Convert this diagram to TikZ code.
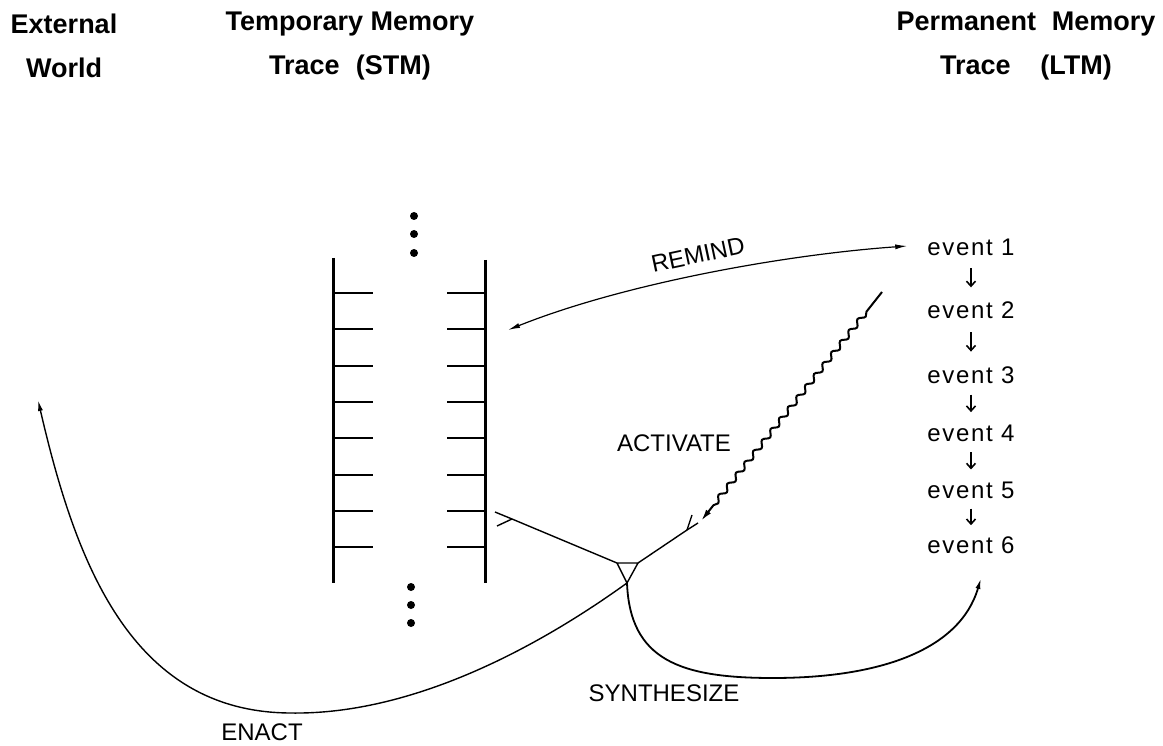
\documentclass[tikz,border=0pt]{standalone}
\usepackage{fontspec}
\setmainfont{Liberation Sans}
\newfontfamily\evfont[LetterSpace=7]{Liberation Sans}
\usetikzlibrary{arrows.meta,decorations.pathmorphing,calc}
\begin{document}
\begin{tikzpicture}[x=1pt,y=-1pt,
  title/.style={font=\bfseries\fontsize{27}{44}\selectfont, align=center, inner sep=0pt},
  lbl/.style={font=\fontsize{24}{28}\selectfont, inner sep=0pt},
  ev/.style={font=\evfont\fontsize{24}{28}\selectfont, inner sep=0pt},
  rail/.style={line width=3pt},
  rung/.style={line width=2pt},
  wire/.style={line width=1.4pt},
  evarrow/.style={line width=1.6pt, -{Straight Barb[length=5pt,width=9pt]}},
  tip/.style={-{Latex[length=11pt,width=5pt]}},
]
\useasboundingbox (0,0) rectangle (1163,746);

% column headings
\node[title] (hw) at (64,46) {External\\World};
\node[title] (hs) at (350,46) {Temporary Memory\\Trace\hspace{0.6em}(STM)};
\node[title] (hl) at (1026,46) {Permanent\hspace{0.3em} Memory\\Trace\hspace{1.1em}(LTM)};

% short-term memory trace: two rails with rungs
\draw[rail] (333,258) -- (333,583);
\draw[rail] (485,260) -- (485,583);
\foreach \i in {0,...,7}{
  \pgfmathsetmacro{\yy}{293+36.3*\i}
  \draw[rung] (333,\yy) -- (373,\yy);
  \draw[rung] (447,\yy) -- (485,\yy);
}
\foreach \yy in {216,234,253}{\fill (414,\yy) circle[radius=4pt];}
\foreach \yy in {587,605,623}{\fill (411,\yy) circle[radius=4pt];}

% long-term memory trace: chain of events
\node[ev] (e1) at (971,247) {event 1};
\node[ev] (e2) at (971,310) {event 2};
\node[ev] (e3) at (971,375) {event 3};
\node[ev] (e4) at (971,433) {event 4};
\node[ev] (e5) at (971,490) {event 5};
\node[ev] (e6) at (971,545) {event 6};
\foreach \a/\b in {e1/e2,e2/e3,e3/e4,e4/e5,e5/e6}{
  \draw[evarrow] ($(\a)!0.34!(\b)$) -- ($(\b)!0.36!(\a)$);
}

% neuron: cell body with two forked inputs
\coordinate (tl) at (617,563);
\coordinate (tr) at (638,563);
\coordinate (ap) at (627,583);
\draw[wire, line join=round] (tl) -- (tr) -- (ap) -- cycle;
\coordinate (sf) at (512,519);
\coordinate (sa) at (495,512);
\coordinate (sb) at (497,526);
\draw[wire] (tl) -- (sf) -- (sa);
\draw[wire] (sf) -- (sb);
\coordinate (af) at (687,530);
\coordinate (aa) at (698,523);
\coordinate (ab) at (692,515);
\draw[wire] (tr) -- (af) -- (aa);
\draw[wire] (af) -- (ab);

% activation from the permanent trace
\coordinate (w0) at (882,292);
\coordinate (w1) at (701,521);
\draw[line width=2pt, decorate,
  decoration={snake, amplitude=2.5pt, segment length=14pt, pre length=25pt, post length=14pt},
  -{Latex[length=12pt,width=6pt]}] (w0) -- (w1);

% reminding
\coordinate (stm) at (508,330);
\coordinate (ltm) at ($(e1.west)+(-20,-1)$);
\draw[line width=1.2pt, {Latex[length=12pt,width=5pt]}-{Latex[length=12pt,width=5pt]}]
  (stm) .. controls (620,285) and (780,255) .. (ltm);

% enacting into the world
\coordinate (world) at (38,400);
\draw[wire, tip] (ap) .. controls (520,660) and (400,715) .. (290,713)
  .. controls (130,712) and (75,560) .. (world);

% synthesizing into the permanent trace
\coordinate (syn) at (981,578);
\draw[line width=1.8pt, tip] (ap) .. controls (630,660) and (680,678) .. (773,678)
  .. controls (880,678) and (960,650) .. (syn);

% labels
\node[lbl, rotate=12] (lr) at (698,255) {REMIND};
\node[lbl] (la) at (674,443) {ACTIVATE};
\node[lbl] (ls) at (664,693) {SYNTHESIZE};
\node[lbl] (le) at (262,732) {ENACT};
\end{tikzpicture}
\end{document}
